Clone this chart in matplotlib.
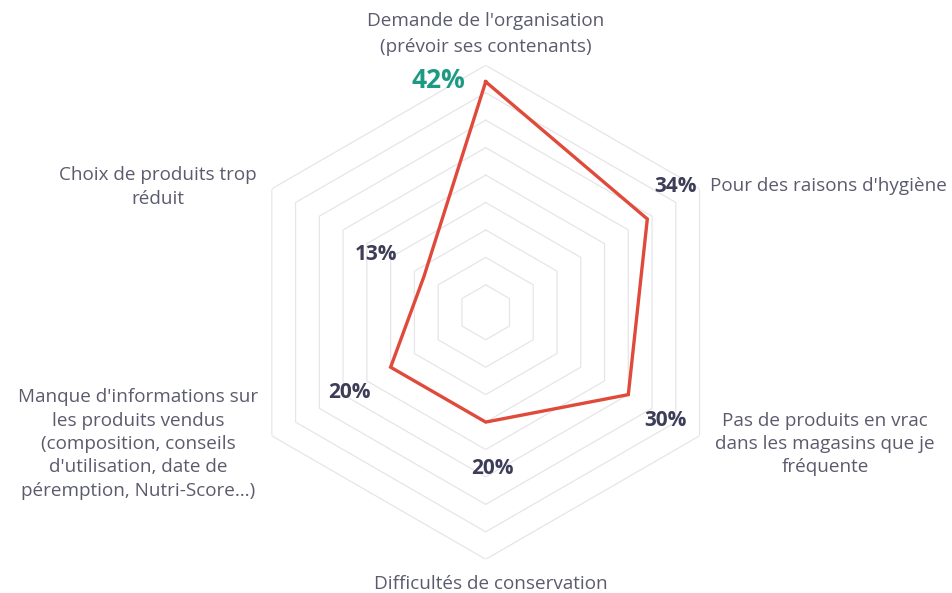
import numpy as np
import matplotlib
matplotlib.use("Agg")
import matplotlib.pyplot as plt

# categories clockwise from the top
categories = [
    "Demande de l'organisation\n(prévoir ses contenants)",
    "Pour des raisons d'hygiène",
    "Pas de produits en vrac\ndans les magasins que je\nfréquente",
    "Difficultés de conservation",
    "Manque d'informations sur\nles produits vendus\n(composition, conseils\nd'utilisation, date de\npéremption, Nutri-Score…)",
    "Choix de produits trop\nréduit",
]
values = [42, 34, 30, 20, 20, 13]
value_labels = ["42%", "34%", "30%", "20%", "20%", "13%"]
r_max = 45
grid_levels = [5, 10, 15, 20, 25, 30, 35, 40, 45]

W, H = 953, 593
plt.rcParams['font.family'] = ['Open Sans', 'DejaVu Sans']

fig = plt.figure(figsize=(W / 100, H / 100), dpi=100)
cx, cy, rad = 485.7, 312.3, 247
ax = fig.add_axes([(cx - rad) / W, (H - cy - rad) / H, 2 * rad / W, 2 * rad / H],
                  projection='polar')
ax.set_theta_offset(np.pi / 2)
ax.set_theta_direction(-1)
ax.set_ylim(0, r_max)
ax.grid(False)
ax.set_xticks([])
ax.set_yticks([])
ax.spines['polar'].set_visible(False)
ax.patch.set_visible(False)

n = len(categories)
theta = np.linspace(0, 2 * np.pi, n, endpoint=False)
theta_c = np.append(theta, theta[0])

# hexagonal grid
for lv in grid_levels:
    ax.plot(theta_c, [lv] * (n + 1), color='#e6e6ea', lw=0.9, zorder=1)

# data polygon
vals_c = values + values[:1]
ax.plot(theta_c, vals_c, color='#e04a3b', lw=2.4, zorder=3, solid_joinstyle='miter')

label_col = '#5b5b6e'
value_col = '#3d3d58'


def ftext(x, y, s, **kw):
    fig.text(x / W, 1 - y / H, s, **kw)


# category labels (pixel positions of the reference layout)
cat_pos = [
    (486, 34, 'center', 1.6),
    (710, 186, 'left', 1.3),
    (825, 444, 'center', 1.36),
    (491, 584, 'center', 1.3),
    (138, 444, 'center', 1.38),
    (158, 187, 'center', 1.36),
]
for (x, y, ha, ls), s in zip(cat_pos, categories):
    ftext(x, y, s, ha=ha, va='center', multialignment='center',
          fontsize=13.6, color=label_col, linespacing=ls)

# value labels
val_pos = [(438, 80), (676, 187), (665, 421), (492, 468), (349, 392), (376, 254)]
for i, ((x, y), s) in enumerate(zip(val_pos, value_labels)):
    if i == 0:
        ftext(x, y, s, ha='center', va='center', fontsize=19,
              fontweight='bold', color='#1e9a84')
    else:
        ftext(x, y, s, ha='center', va='center', fontsize=15,
              fontweight='bold', color=value_col)

fig.savefig('out.png', dpi=100)
